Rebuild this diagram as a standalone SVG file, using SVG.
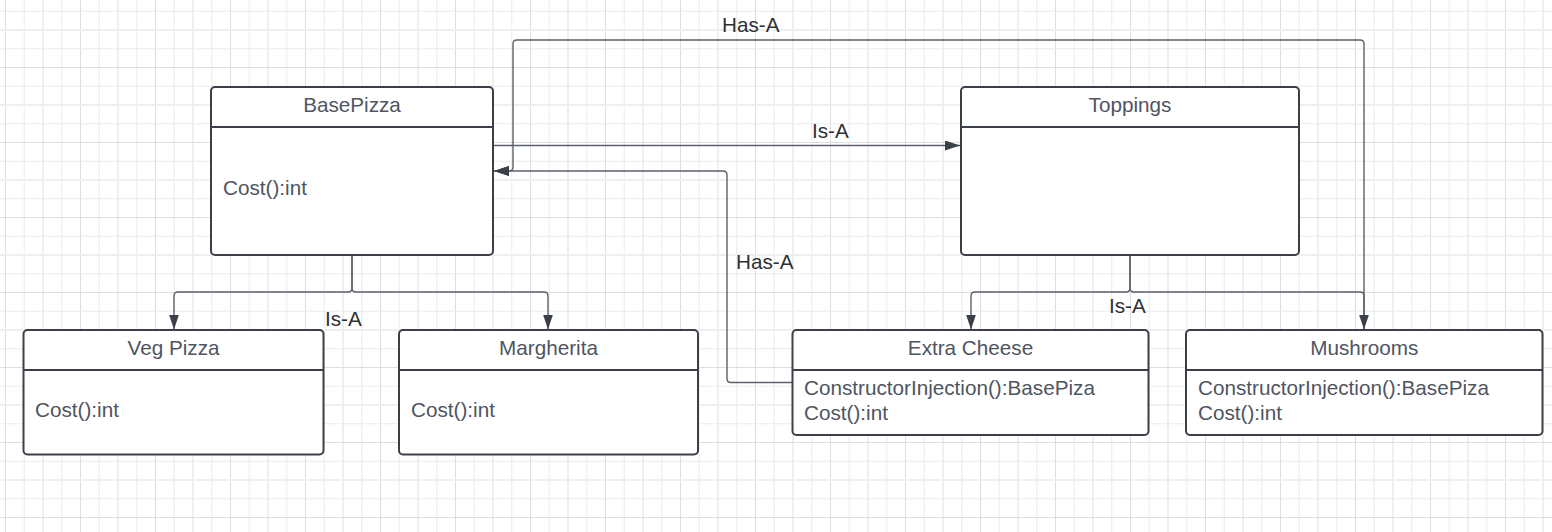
<svg xmlns="http://www.w3.org/2000/svg" width="1552" height="532" viewBox="0 0 1552 532">
  <style>
    .box { fill: #ffffff; stroke: #3b4048; stroke-width: 2; }
    .div { stroke: #3b4048; stroke-width: 2; }
    .title { font-family: "Liberation Sans", Arial, sans-serif; font-size: 20.7px; fill: #4f5561; text-anchor: middle; }
    .body { font-family: "Liberation Sans", Arial, sans-serif; font-size: 20.7px; fill: #4f5561; }
    .lbl { font-family: "Liberation Sans", Arial, sans-serif; font-size: 20.7px; fill: #2e3033; }
    .conn { fill: none; stroke: #5b616b; stroke-width: 1.4; }
  </style>
  <defs>
    <pattern id="grid" patternUnits="userSpaceOnUse" x="5" y="67" width="75" height="75">
      <line x1="0.5" y1="0" x2="0.5" y2="75" stroke="#dedede" stroke-width="1"/>
      <line x1="19.25" y1="0" x2="19.25" y2="75" stroke="#ebebeb" stroke-width="1"/>
      <line x1="38" y1="0" x2="38" y2="75" stroke="#efefef" stroke-width="2"/>
      <line x1="56.75" y1="0" x2="56.75" y2="75" stroke="#ebebeb" stroke-width="1"/>
      <line x1="0" y1="0.5" x2="75" y2="0.5" stroke="#dedede" stroke-width="1"/>
      <line x1="0" y1="19.25" x2="75" y2="19.25" stroke="#ebebeb" stroke-width="1"/>
      <line x1="0" y1="38" x2="75" y2="38" stroke="#efefef" stroke-width="2"/>
      <line x1="0" y1="56.75" x2="75" y2="56.75" stroke="#ebebeb" stroke-width="1"/>
    </pattern>
    <marker id="arrow" markerUnits="userSpaceOnUse" markerWidth="15" markerHeight="10" refX="15" refY="5" orient="auto">
      <path d="M0,0 L15,5 L0,10 Z" fill="#3b4048"/>
    </marker>
  </defs>

  <rect x="0" y="0" width="1552" height="532" fill="#ffffff"/>
  <rect x="0" y="0" width="1552" height="532" fill="url(#grid)"/>

  <g id="connectors">
    <path class="conn" d="M493,145.5 H960" marker-end="url(#arrow)"/>
    <path class="conn" d="M1364,330 V44 Q1364,40 1360,40 H517 Q513,40 513,44 V167 Q513,171 509,171 H494" marker-end="url(#arrow)"/>
    <path class="conn" d="M792,382.5 H731 Q727,382.5 727,378.5 V175 Q727,171 723,171 H494" marker-end="url(#arrow)"/>
    <path class="conn" d="M352,256 V288 Q352,292 348,292 H178 Q174,292 174,296 V329.5" marker-end="url(#arrow)"/>
    <path class="conn" d="M352,256 V288 Q352,292 356,292 H544 Q548,292 548,296 V329.5" marker-end="url(#arrow)"/>
    <path class="conn" d="M1130,256 V288 Q1130,292 1126,292 H975 Q971,292 971,296 V329.5" marker-end="url(#arrow)"/>
    <path class="conn" d="M1130,256 V288 Q1130,292 1134,292 H1360 Q1364,292 1364,296 V329.5" marker-end="url(#arrow)"/>
    <text class="lbl" x="722" y="32">Has-A</text>
    <text class="lbl" x="812" y="138">Is-A</text>
    <text class="lbl" x="736" y="269">Has-A</text>
    <text class="lbl" x="325" y="326">Is-A</text>
    <text class="lbl" x="1109" y="313">Is-A</text>
  </g>

  <g id="basepizza">
    <rect class="box" x="211" y="87" width="282" height="168" rx="4"/>
    <line class="div" x1="211" y1="127" x2="493" y2="127"/>
    <text class="title" x="352" y="112">BasePizza</text>
    <text class="body" x="223" y="195">Cost():int</text>
  </g>

  <g id="toppings">
    <rect class="box" x="961" y="87" width="338" height="168" rx="4"/>
    <line class="div" x1="961" y1="127" x2="1299" y2="127"/>
    <text class="title" x="1130" y="112">Toppings</text>
  </g>

  <g id="vegpizza">
    <rect class="box" x="23.5" y="330" width="300" height="124.5" rx="4"/>
    <line class="div" x1="23.5" y1="370" x2="323.5" y2="370"/>
    <text class="title" x="173.5" y="355">Veg Pizza</text>
    <text class="body" x="35" y="417">Cost():int</text>
  </g>

  <g id="margherita">
    <rect class="box" x="399" y="330" width="299" height="124.5" rx="4"/>
    <line class="div" x1="399" y1="370" x2="698" y2="370"/>
    <text class="title" x="548.5" y="355">Margherita</text>
    <text class="body" x="411" y="417">Cost():int</text>
  </g>

  <g id="extracheese">
    <rect class="box" x="792.5" y="330" width="356" height="105" rx="4"/>
    <line class="div" x1="792.5" y1="370" x2="1148.5" y2="370"/>
    <text class="title" x="970.5" y="355">Extra Cheese</text>
    <text class="body" x="804" y="395">ConstructorInjection():BasePiza</text>
    <text class="body" x="804" y="420">Cost():int</text>
  </g>

  <g id="mushrooms">
    <rect class="box" x="1186" y="330" width="356.5" height="105" rx="4"/>
    <line class="div" x1="1186" y1="370" x2="1542.5" y2="370"/>
    <text class="title" x="1364.3" y="355">Mushrooms</text>
    <text class="body" x="1198" y="395">ConstructorInjection():BasePiza</text>
    <text class="body" x="1198" y="420">Cost():int</text>
  </g>
</svg>
